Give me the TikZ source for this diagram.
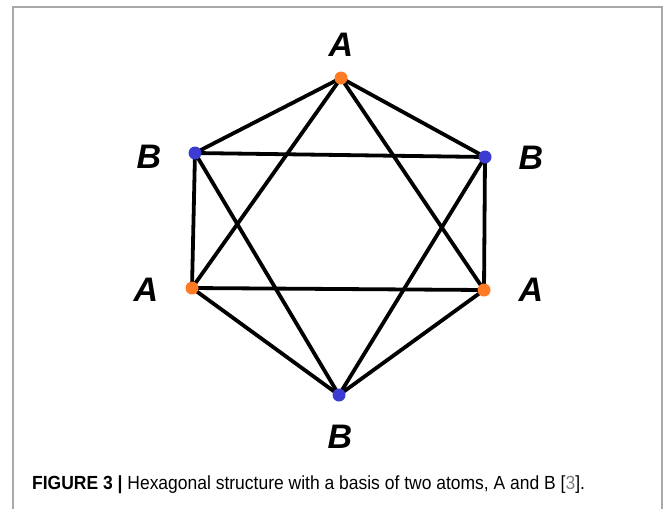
\documentclass[tikz,border=0pt]{standalone}
\usepackage{fontspec}
\setsansfont{Liberation Sans}
\usetikzlibrary{positioning}
\definecolor{atomA}{HTML}{FF7A22}
\definecolor{atomB}{HTML}{3C3CD2}
\definecolor{framegray}{HTML}{A8A8A8}
\pgfdeclarelayer{bonds}
\pgfsetlayers{bonds,main}

\begin{document}
\begin{tikzpicture}[x=1pt,y=-1pt,
  bond/.style={line width=3.8pt,line cap=round},
  atom/.style={circle,inner sep=0pt,minimum size=13pt},
  siteA/.style={atom,fill=atomA},
  siteB/.style={atom,fill=atomB},
  lbl/.style={font=\sffamily\bfseries\itshape\fontsize{34}{34}\selectfont,inner sep=0pt}]
\useasboundingbox (0,0) rectangle (663,509);
\draw[framegray,line width=1.3pt] (13,509) -- (13,7) -- (662,7) -- (662,509);
% lattice sites
\node[siteA] (a1) at (341,78) {};
\node[siteB] (b1) at (195,153) {};
\node[siteB] (b2) at (485,157) {};
\node[siteA] (a2) at (192,288) {};
\node[siteA] (a3) at (484,290) {};
\node[siteB] (b3) at (339,395) {};
% labels
\node[lbl] (la1) at (341,45) {A};
\node[lbl] (lb1) at (149,157) {B};
\node[lbl] (lb2) at (531,158) {B};
\node[lbl] (la2) at (146,290) {A};
\node[lbl] (la3) at (531,290) {A};
\node[lbl] (lb3) at (340,437) {B};
\begin{pgfonlayer}{bonds}
% hexagon
\draw[bond] (a1.center) -- (b2.center) -- (a3.center) -- (b3.center) -- (a2.center) -- (b1.center) -- cycle;
% triangles
\draw[bond] (a1.center) -- (a3.center) -- (a2.center) -- cycle;
\draw[bond] (b1.center) -- (b2.center) -- (b3.center) -- cycle;
\end{pgfonlayer}
% caption
\node[anchor=base west,inner sep=0pt,font=\sffamily\fontsize{19}{19}\selectfont] (cap) at (32,489)
  {\scalebox{0.92}[1]{\textbf{FIGURE 3 |} Hexagonal structure with a basis of two atoms, A and B [{\color{gray}3}].}};
\end{tikzpicture}
\end{document}
